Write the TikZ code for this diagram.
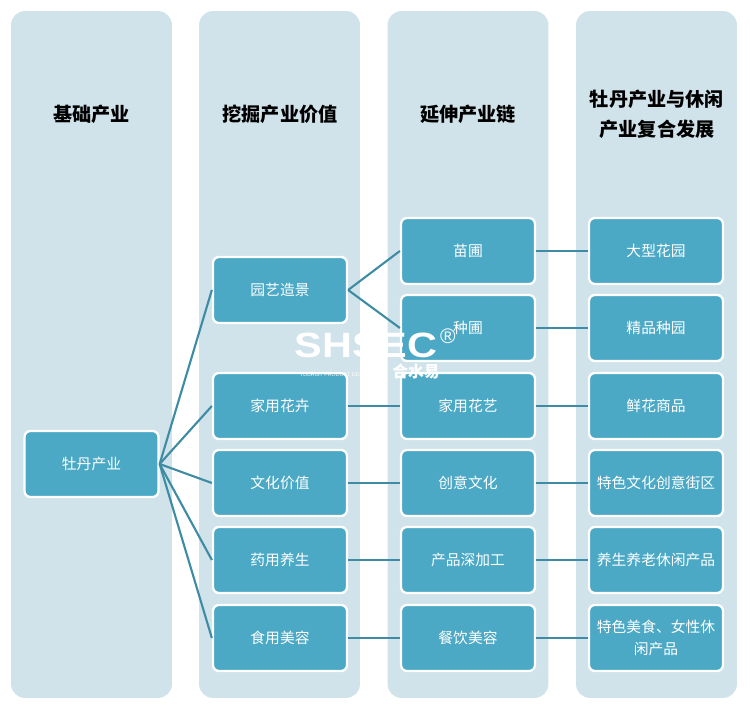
\documentclass[tikz,border=0pt]{standalone}
\usepackage{fontspec}
\setmainfont{Noto Sans CJK SC}
\newfontfamily\wmfont{Liberation Sans}
\definecolor{panelc}{HTML}{D0E2EA}
\definecolor{boxc}{HTML}{4BA9C6}
\definecolor{linec}{HTML}{3E8CA3}
\begin{document}
\begin{tikzpicture}[x=0.02cm,y=-0.02cm]
  \tikzset{pn/.style={fill=panelc,rectangle,rounded corners=0.28cm,minimum width=3.22cm,minimum height=13.74cm,inner sep=0pt}}
  \tikzset{bx/.style={draw=white,fill=boxc,line width=1.3pt,rectangle,rounded corners=0.12cm,minimum width=2.68cm,minimum height=1.32cm,inner sep=1pt,text=white,font=\fontsize{8.4}{12.5}\selectfont,align=center}}
  \tikzset{hd/.style={font=\fontsize{10.9}{17}\selectfont\bfseries,align=center,inner sep=0pt}}
  \tikzset{ln/.style={draw=linec,line width=1.2pt}}
  \useasboundingbox (0,0) rectangle (750,709);
  \node[pn] (p1) at (91.5,354.5) {};
  \node[pn] (p2) at (279.5,354.5) {};
  \node[pn] (p3) at (468,354.5) {};
  \node[pn] (p4) at (656.5,354.5) {};
  \node[hd] (h1) at (91.5,114) {基础产业};
  \node[hd] (h2) at (280,114) {挖掘产业价值};
  \node[hd] (h3) at (468,114) {延伸产业链};
  \node[hd] (h4) at (657,114) {牡丹产业与休闲\\产业复合发展};
  \node[bx] (r) at (91.5,464) {牡丹产业};
  \node[bx] (a1) at (280,290) {园艺造景};
  \node[bx] (a2) at (280,406) {家用花卉};
  \node[bx] (a3) at (280,483) {文化价值};
  \node[bx] (a4) at (280,560) {药用养生};
  \node[bx] (a5) at (280,638) {食用美容};
  \node[bx] (b1) at (468,251) {苗圃};
  \node[bx] (b2) at (468,328) {种圃};
  \node[bx] (b3) at (468,406) {家用花艺};
  \node[bx] (b4) at (468,483) {创意文化};
  \node[bx] (b5) at (468,560) {产品深加工};
  \node[bx] (b6) at (468,638) {餐饮美容};
  \node[bx] (c1) at (656,251) {大型花园};
  \node[bx] (c2) at (656,328) {精品种园};
  \node[bx] (c3) at (656,406) {鲜花商品};
  \node[bx] (c4) at (656,483) {特色文化创意街区};
  \node[bx] (c5) at (656,560) {养生养老休闲产品};
  \node[bx] (c6) at (656,638) {特色美食、女性休\\闲产品};
  \draw[ln] (r.east)--(a1.west); \draw[ln] (r.east)--(a2.west);
  \draw[ln] (r.east)--(a3.west); \draw[ln] (r.east)--(a4.west);
  \draw[ln] (r.east)--(a5.west);
  \draw[ln] (a1.east)--(b1.west); \draw[ln] (a1.east)--(b2.west);
  \draw[ln] (a2)--(b3); \draw[ln] (a3)--(b4);
  \draw[ln] (a4)--(b5); \draw[ln] (a5)--(b6);
  \draw[ln] (b1)--(c1); \draw[ln] (b2)--(c2); \draw[ln] (b3)--(c3);
  \draw[ln] (b4)--(c4); \draw[ln] (b5)--(c5); \draw[ln] (b6)--(c6);
  \node[text=white,font=\wmfont\fontsize{20}{20}\selectfont\bfseries,xscale=1.18,inner sep=0pt] (w1) at (366,345) {SHSEC};
  \node[text=white,font=\wmfont\fontsize{12}{12}\selectfont,inner sep=0pt] (w2) at (448,336) {®};
  \node[text=white,font=\fontsize{9}{9}\selectfont\bfseries,inner sep=0pt] (w3) at (416,372) {合水易};
  \node[text=white,font=\wmfont\fontsize{3}{3}\selectfont,inner sep=0pt] (w4) at (336,375) {TOURIST PRODUCT DESIGN};
\end{tikzpicture}
\end{document}
